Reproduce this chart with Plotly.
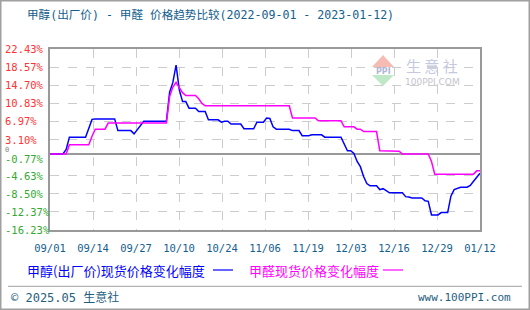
import datetime as dt
import plotly.graph_objects as go

# ---------------- data ----------------
title_text = "甲醇(出厂价) - 甲醛 价格趋势比较(2022-09-01 - 2023-01-12)"
series_names = ["甲醇(出厂价)现货价格变化幅度", "甲醛现货价格变化幅度"]

methanol_dates = [
    "2022-09-01", "2022-09-05", "2022-09-06", "2022-09-07", "2022-09-12", "2022-09-13",
    "2022-09-14", "2022-09-15", "2022-09-21", "2022-09-22", "2022-09-26", "2022-09-27",
    "2022-09-28", "2022-09-29", "2022-09-30", "2022-10-07", "2022-10-08", "2022-10-09",
    "2022-10-10", "2022-10-11", "2022-10-12", "2022-10-13", "2022-10-14", "2022-10-16",
    "2022-10-17", "2022-10-19", "2022-10-20", "2022-10-23", "2022-10-24", "2022-10-25",
    "2022-10-26", "2022-10-27", "2022-10-30", "2022-10-31", "2022-11-03", "2022-11-04",
    "2022-11-06", "2022-11-07", "2022-11-08", "2022-11-09", "2022-11-10", "2022-11-14",
    "2022-11-15", "2022-11-17", "2022-11-18", "2022-11-20", "2022-11-21", "2022-11-24",
    "2022-11-25", "2022-11-30", "2022-12-01", "2022-12-02", "2022-12-03", "2022-12-04",
    "2022-12-05", "2022-12-06", "2022-12-07", "2022-12-08", "2022-12-09", "2022-12-11",
    "2022-12-12", "2022-12-13", "2022-12-14", "2022-12-15", "2022-12-19", "2022-12-20",
    "2022-12-21", "2022-12-22", "2022-12-25", "2022-12-26", "2022-12-27", "2022-12-28",
    "2022-12-30", "2022-12-31", "2023-01-02", "2023-01-03", "2023-01-04", "2023-01-05",
    "2023-01-06", "2023-01-08", "2023-01-09", "2023-01-10", "2023-01-11", "2023-01-12",
]
methanol_values = [
    0.0, 0.0, 1.0, 3.6, 3.6, 5.4,
    7.4, 7.5, 7.5, 5.0, 5.0, 4.3,
    5.2, 6.3, 7.0, 7.0, 13.2, 15.3,
    19.0, 13.7, 11.2, 11.2, 9.8, 9.8,
    9.1, 9.1, 7.3, 7.3, 6.8, 7.0,
    7.0, 6.4, 6.4, 5.4, 5.4, 6.8,
    6.8, 7.7, 7.6, 5.8, 5.3, 5.3,
    5.0, 5.0, 3.9, 3.9, 4.1, 4.1,
    3.6, 3.6, 2.2, 0.7, 0.7, 0.1,
    -1.6, -2.7, -4.8, -6.3, -6.8, -6.8,
    -7.6, -7.4, -7.8, -8.3, -8.3, -9.1,
    -9.2, -9.4, -9.4, -10.0, -10.1, -13.0,
    -13.0, -12.5, -12.5, -9.0, -7.6, -7.3,
    -7.1, -7.1, -6.7, -5.8, -4.9, -4.1,
]

formaldehyde_dates = [
    "2022-09-01", "2022-09-06", "2022-09-07", "2022-09-13", "2022-09-14", "2022-09-15",
    "2022-09-18", "2022-09-19", "2022-10-07", "2022-10-08", "2022-10-09", "2022-10-10",
    "2022-10-11", "2022-10-12", "2022-10-13", "2022-10-16", "2022-10-17", "2022-10-18",
    "2022-10-19", "2022-11-14", "2022-11-15", "2022-11-22", "2022-11-23", "2022-11-30",
    "2022-12-01", "2022-12-04", "2022-12-05", "2022-12-06", "2022-12-07", "2022-12-11",
    "2022-12-12", "2022-12-18", "2022-12-19", "2022-12-27", "2022-12-28", "2022-12-29",
    "2023-01-10", "2023-01-11", "2023-01-12",
]
formaldehyde_values = [
    0.0, 0.0, 2.0, 2.0, 3.8, 5.3,
    5.3, 6.6, 6.6, 12.3, 14.3, 15.3,
    14.2, 13.1, 12.5, 12.5, 11.8, 10.8,
    10.3, 10.3, 7.7, 7.7, 7.1, 7.1,
    5.8, 5.8, 5.3, 5.3, 4.8, 4.8,
    0.7, 0.6, 0.0, 0.0, -1.6, -4.3,
    -4.3, -3.6, -3.6,
]

x_tick_labels = ["09/01", "09/14", "09/27", "10/10", "10/24", "11/06",
                 "11/19", "12/03", "12/16", "12/29", "01/12"]
y_tick_values = [22.43, 18.57, 14.70, 10.83, 6.97, 3.10, -0.77, -4.63, -8.50, -12.37, -16.23]
y_tick_labels = ["22.43%", "18.57%", "14.70%", "10.83%", "6.97%", "3.10%",
                 "-0.77%", "-4.63%", "-8.50%", "-12.37%", "-16.23%"]

start_date = "2022-09-01"
end_date = "2023-01-12"

# ---------------- layout helpers ----------------
W, H = 530, 310
ML, MR, MT, MB = 50, 50, 49, 80
PW, PH = W - ML - MR, H - MT - MB


def px(x):
    return (x - ML) / PW


def py(y):
    return (H - MB - y) / PH


BLUE = "#0000ff"
MAGENTA = "#ff00ff"
TEXT_BLUE = "#13608e"
RED = "#ff3333"
GREEN = "#33aa33"
MONO = "DejaVu Sans Mono, Noto Sans CJK SC, monospace"
CJK = "Noto Sans CJK SC, DejaVu Sans Mono, sans-serif"

# equally spaced x ticks over the date range
d0 = dt.datetime.fromisoformat(start_date)
d1 = dt.datetime.fromisoformat(end_date)
n = len(x_tick_labels) - 1
x_tick_vals = [(d0 + (d1 - d0) * i / n).isoformat() for i in range(n + 1)]

fig = go.Figure()
fig.add_trace(go.Scatter(x=methanol_dates, y=methanol_values, mode="lines",
                         name=series_names[0], line=dict(color=BLUE, width=1.5)))
fig.add_trace(go.Scatter(x=formaldehyde_dates, y=formaldehyde_values, mode="lines",
                         name=series_names[1], line=dict(color=MAGENTA, width=1.5)))

grid_vals = [v for v in y_tick_values if v != -0.77]

fig.update_layout(
    width=W, height=H,
    margin=dict(l=ML, r=MR, t=MT, b=MB),
    paper_bgcolor="white", plot_bgcolor="white",
    showlegend=False,
    xaxis=dict(
        type="date", range=[start_date, end_date],
        tickvals=x_tick_vals, ticktext=x_tick_labels,
        showgrid=True, gridcolor="#cccccc", griddash="dash", gridwidth=1,
        showline=True, linecolor="#999999", linewidth=1.5, mirror=True,
        ticks="", ticklabelstandoff=8,
        tickfont=dict(family=MONO, size=10.5, color=TEXT_BLUE),
        zeroline=False, fixedrange=True,
    ),
    yaxis=dict(
        range=[y_tick_values[-1], y_tick_values[0]],
        tickvals=grid_vals, showticklabels=False,
        showgrid=True, gridcolor="#cccccc", griddash="dash", gridwidth=1,
        showline=True, linecolor="#999999", linewidth=1.5, mirror=True,
        zeroline=True, zerolinecolor="#999999", zerolinewidth=1.5,
        ticks="", fixedrange=True,
    ),
)

ann = []
# y tick labels (left aligned)
for v, t in zip(y_tick_values, y_tick_labels):
    ann.append(dict(xref="paper", yref="y", x=px(4), y=v, text=t, showarrow=False,
                    xanchor="left", yanchor="middle", borderpad=0,
                    yshift=-1 if v == -0.77 else 0,
                    font=dict(family=MONO, size=10.5, color=RED if v > 0 else GREEN)))
ann.append(dict(xref="paper", yref="y", x=px(4), y=0, yshift=4, text="0", showarrow=False,
                xanchor="left", yanchor="middle", borderpad=0,
                font=dict(family=MONO, size=7, color="#888888")))
# title
ann.append(dict(xref="paper", yref="paper", x=px(25), y=py(15), text=title_text,
                showarrow=False, xanchor="left", yanchor="middle",
                font=dict(family=MONO, size=11.6, color=TEXT_BLUE)))
# legend
ann.append(dict(xref="paper", yref="paper", x=px(25), y=py(270), text=series_names[0],
                showarrow=False, xanchor="left", yanchor="middle",
                font=dict(family=CJK, size=13, color=BLUE)))
ann.append(dict(xref="paper", yref="paper", x=px(247), y=py(270), text=series_names[1],
                showarrow=False, xanchor="left", yanchor="middle",
                font=dict(family=CJK, size=13, color=MAGENTA)))
# footer
ann.append(dict(xref="paper", yref="paper", x=px(9), y=py(297), text="© 2025.05 生意社",
                showarrow=False, xanchor="left", yanchor="middle",
                font=dict(family=MONO, size=12, color="#1f607f")))
ann.append(dict(xref="paper", yref="paper", x=px(513), y=py(297), text="www.100PPI.com",
                showarrow=False, xanchor="right", yanchor="middle",
                font=dict(family=MONO, size=11, color="#1f607f")))
# watermark
ann.append(dict(xref="paper", yref="paper", x=px(432), y=py(65.5), text="生 意 社",
                showarrow=False, xanchor="center", yanchor="middle",
                font=dict(family=CJK, size=15, color="#c5c9e0")))
ann.append(dict(xref="paper", yref="paper", x=px(432), y=py(81.5), text="100PPI.COM",
                showarrow=False, xanchor="center", yanchor="middle",
                font=dict(family="DejaVu Sans, sans-serif", size=9, color="#c4c4cc")))
ann.append(dict(xref="paper", yref="paper", x=px(383), y=py(71), text="<b>PPI</b>",
                showarrow=False, xanchor="center", yanchor="middle",
                font=dict(family="DejaVu Sans, sans-serif", size=8, color="#b0b6d6")))

shapes = []


def pth(points):
    return "M " + " L ".join(f"{px(a)},{py(b)}" for a, b in points) + " Z"


shapes.append(dict(type="path", xref="paper", yref="paper",
                   path=pth([(372, 67), (383, 55), (394, 67)]),
                   fillcolor="#f6bcb4", line=dict(width=0), layer="below"))
shapes.append(dict(type="path", xref="paper", yref="paper",
                   path=pth([(372, 75), (394, 75), (383, 86)]),
                   fillcolor="#bfe9c6", line=dict(width=0), layer="below"))
# legend line samples
shapes.append(dict(type="line", xref="paper", yref="paper", x0=px(213), x1=px(233),
                   y0=py(270), y1=py(270), line=dict(color=BLUE, width=1.2)))
shapes.append(dict(type="line", xref="paper", yref="paper", x0=px(383), x1=px(403),
                   y0=py(270), y1=py(270), line=dict(color=MAGENTA, width=1.2)))
# footer separator
shapes.append(dict(type="line", xref="paper", yref="paper", x0=px(8), x1=px(522),
                   y0=py(286.3), y1=py(286.3), line=dict(color="#a0a0a0", width=1)))
# outer border
shapes.append(dict(type="rect", xref="paper", yref="paper", x0=px(0.75), x1=px(529.25),
                   y0=py(309.25), y1=py(0.75), line=dict(color="#a0a0a0", width=1.5)))

fig.update_layout(annotations=ann, shapes=shapes)
fig.write_html("out.html")
